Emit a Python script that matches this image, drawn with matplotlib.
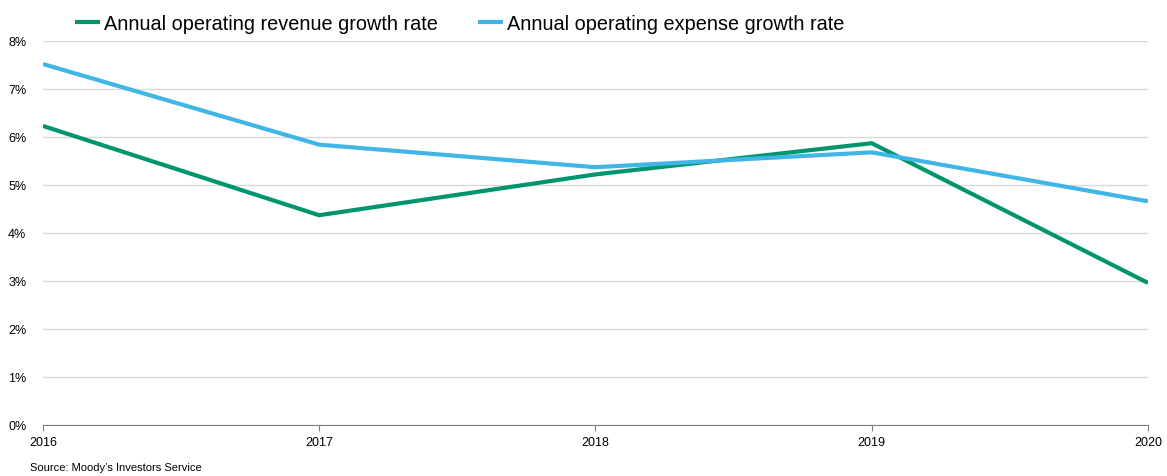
import matplotlib.pyplot as plt
from matplotlib.ticker import PercentFormatter

plt.rcParams['font.family'] = ['Liberation Sans', 'DejaVu Sans']

# data
years = [2016, 2017, 2018, 2019, 2020]
revenue_growth = [6.23, 4.37, 5.22, 5.87, 2.96]
expense_growth = [7.52, 5.84, 5.37, 5.68, 4.66]

green = '#00956D'
blue = '#3FB6E6'

fig = plt.figure(figsize=(11.67, 4.77), dpi=100)
ax = fig.add_axes([0.0368, 0.107, 0.9469, 0.805])

ax.plot(years, revenue_growth, color=green, lw=3, label='Annual operating revenue growth rate',
        solid_capstyle='butt')
ax.plot(years, expense_growth, color=blue, lw=3, label='Annual operating expense growth rate',
        solid_capstyle='butt')

ax.set_xlim(2016, 2020)
ax.set_ylim(0, 8)
ax.set_xticks(years)
ax.set_yticks(range(0, 9))
ax.yaxis.set_major_formatter(PercentFormatter(decimals=0))
ax.grid(axis='y', color='#d9d9d9', lw=1)
ax.set_axisbelow(True)

for s in ['top', 'right', 'left']:
    ax.spines[s].set_visible(False)
ax.spines['bottom'].set_color('#808080')
ax.tick_params(axis='y', length=0, labelsize=9, pad=12)
ax.tick_params(axis='x', length=4, color='#808080', labelsize=9, pad=4)

leg = ax.legend(loc='lower left', bbox_to_anchor=(0.022, 1.0), ncol=2, frameon=False,
                fontsize=14.3, handlelength=1.26, handletextpad=0.2, columnspacing=2.0,
                borderaxespad=0.0)

fig.text(0.026, 0.012, "Source: Moody\u2019s Investors Service", fontsize=8)

fig.savefig('out.png', dpi=100)
